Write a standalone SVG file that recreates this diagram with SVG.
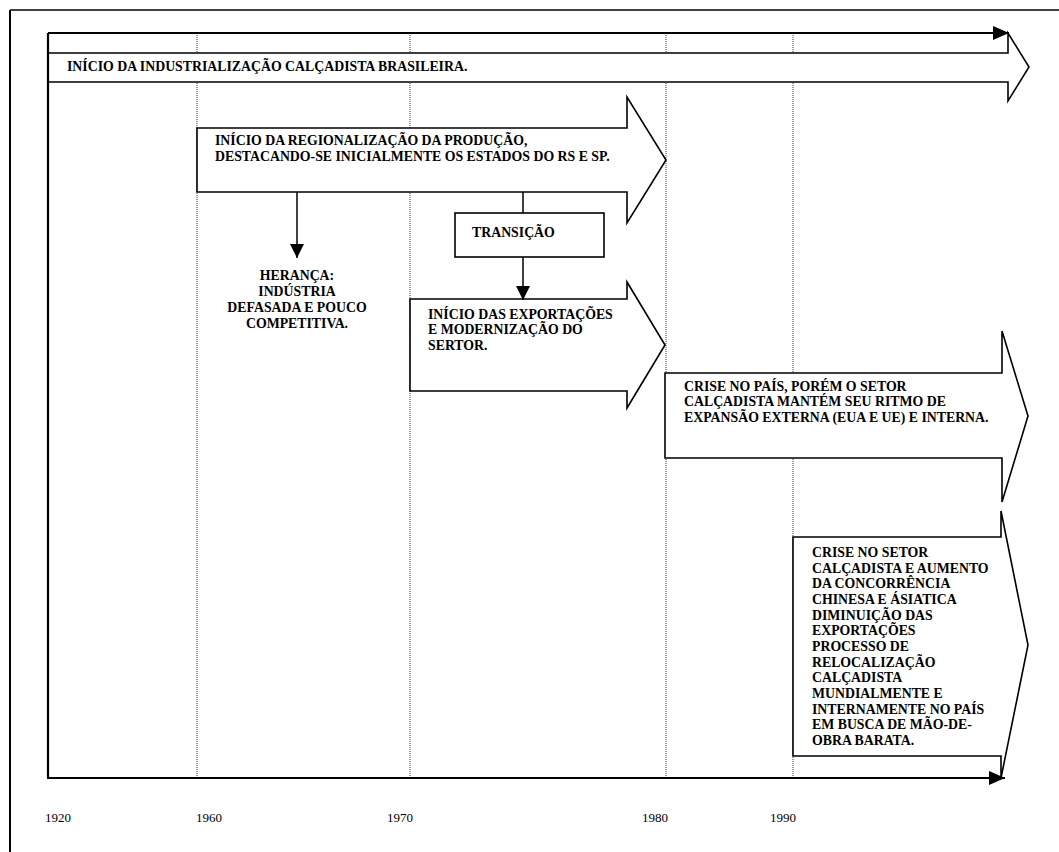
<svg xmlns="http://www.w3.org/2000/svg" width="1059" height="852" viewBox="0 0 1059 852">
<style>
.t{font-family:"Liberation Serif","Times New Roman",serif;font-weight:bold;font-size:13.8px;fill:#000}
.y{font-family:"Liberation Serif","Times New Roman",serif;font-size:13px;fill:#000}
.ar{fill:#fff;stroke:#000;stroke-width:1.6;stroke-linejoin:miter}
.box{fill:#fff;stroke:#000;stroke-width:1.6}
.dot{stroke:#333;stroke-width:1;stroke-dasharray:1 1;fill:none}
.ln{stroke:#000;stroke-width:1.5;fill:none}
.tl{stroke:#000;stroke-width:2.2;fill:none}
</style>
<defs>
<marker id="ah" markerWidth="14" markerHeight="14" refX="14" refY="7" orient="auto" markerUnits="userSpaceOnUse"><path d="M0,0 L14,7 L0,14 z" fill="#000"/></marker>
<marker id="th" markerWidth="16" markerHeight="14" refX="16" refY="7" orient="auto" markerUnits="userSpaceOnUse"><path d="M0,0 L16,7 L0,14 z" fill="#000"/></marker>
</defs>
<rect width="1059" height="852" fill="#fff"/>
<g id="frame">
<line x1="10" y1="10" x2="1059" y2="10" stroke="#000" stroke-width="1.5"/>
<line x1="10" y1="10" x2="10" y2="852" stroke="#000" stroke-width="2"/>
</g>
<g id="grid">
<line class="dot" x1="197" y1="33" x2="197" y2="778"/>
<line class="dot" x1="410" y1="33" x2="410" y2="778"/>
<line class="dot" x1="666" y1="33" x2="666" y2="778"/>
<line class="dot" x1="793" y1="33" x2="793" y2="778"/>
</g>
<g id="n1">
<polygon class="ar" points="48,53 1008,53 1008,33 1029,67 1008,101 1008,82 48,82"/>
<text class="t" x="67" y="71">INÍCIO DA INDUSTRIALIZAÇÃO CALÇADISTA BRASILEIRA.</text>
</g>
<g id="n2">
<polygon class="ar" points="197,128 627,128 627,97 666,160 627,223 627,192 197,192"/>
<text class="t" x="215" y="145">INÍCIO DA REGIONALIZAÇÃO DA PRODUÇÃO,</text>
<text class="t" x="215" y="161">DESTACANDO-SE INICIALMENTE OS ESTADOS DO RS E SP.</text>
</g>
<g id="n3">
<text class="t" text-anchor="middle" x="297" y="280">HERANÇA:</text>
<text class="t" text-anchor="middle" x="297" y="296">INDÚSTRIA</text>
<text class="t" text-anchor="middle" x="297" y="312">DEFASADA E POUCO</text>
<text class="t" text-anchor="middle" x="297" y="328">COMPETITIVA.</text>
</g>
<g id="n4">
<rect class="box" x="455" y="213" width="149" height="44"/>
<text class="t" x="472" y="237">TRANSIÇÃO</text>
</g>
<g id="n5">
<polygon class="ar" points="410,299 627,299 627,282 665,345 627,408 627,391 410,391"/>
<text class="t" x="428" y="319">INÍCIO DAS EXPORTAÇÕES</text>
<text class="t" x="428" y="334">E MODERNIZAÇÃO DO</text>
<text class="t" x="428" y="350">SERTOR.</text>
</g>
<g id="n6">
<polygon class="ar" points="665,373 1002,373 1002,331 1028,416 1002,502 1002,458 665,458"/>
<text class="t" x="684" y="391">CRISE NO PAÍS, PORÉM O SETOR</text>
<text class="t" x="684" y="406">CALÇADISTA MANTÉM SEU RITMO DE</text>
<text class="t" x="684" y="422">EXPANSÃO EXTERNA (EUA E UE) E INTERNA.</text>
</g>
<g id="n7">
<polygon class="ar" points="793,537 1001,537 1001,511 1028,645 1001,778 1001,756 793,756"/>
<text class="t" x="812" y="557">CRISE NO SETOR</text>
<text class="t" x="812" y="572.7">CALÇADISTA E AUMENTO</text>
<text class="t" x="812" y="588.3">DA CONCORRÊNCIA</text>
<text class="t" x="812" y="604">CHINESA E ÁSIATICA</text>
<text class="t" x="812" y="619.7">DIMINUIÇÃO DAS</text>
<text class="t" x="812" y="635.3">EXPORTAÇÕES</text>
<text class="t" x="812" y="651">PROCESSO DE</text>
<text class="t" x="812" y="666.7">RELOCALIZAÇÃO</text>
<text class="t" x="812" y="682.3">CALÇADISTA</text>
<text class="t" x="812" y="698">MUNDIALMENTE E</text>
<text class="t" x="812" y="713.7">INTERNAMENTE NO PAÍS</text>
<text class="t" x="812" y="729.3">EM BUSCA DE MÃO-DE-</text>
<text class="t" x="812" y="745">OBRA BARATA.</text>
</g>
<g id="connectors">
<line class="tl" x1="48" y1="33" x2="1009" y2="33" marker-end="url(#th)"/>
<line class="tl" x1="48" y1="33" x2="48" y2="778"/>
<line class="tl" x1="47" y1="778" x2="1005" y2="778" marker-end="url(#th)"/>
<line class="ln" x1="297" y1="192" x2="297" y2="258" marker-end="url(#ah)"/>
<line class="ln" x1="523" y1="192" x2="523" y2="213"/>
<line class="ln" x1="523" y1="257" x2="523" y2="300" marker-end="url(#ah)"/>
</g>
<g id="years">
<text class="y" x="45" y="822">1920</text>
<text class="y" x="196" y="822">1960</text>
<text class="y" x="387" y="822">1970</text>
<text class="y" x="642" y="822">1980</text>
<text class="y" x="770" y="822">1990</text>
</g>
</svg>
